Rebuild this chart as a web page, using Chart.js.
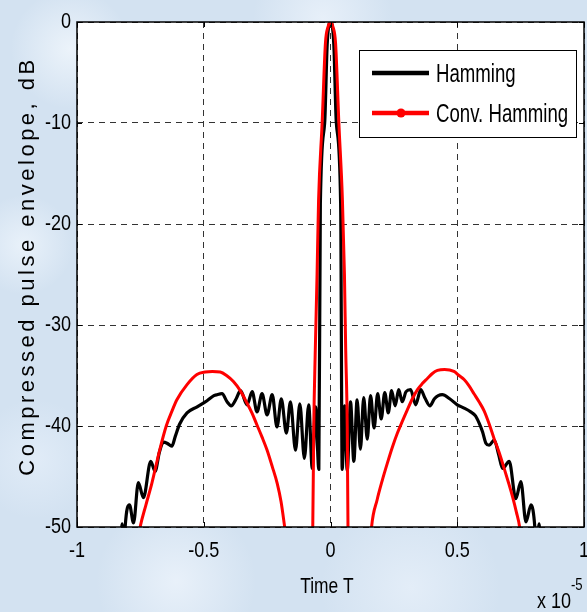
<!DOCTYPE html>
<html>
<head>
<meta charset="utf-8">
<script src="https://cdn.jsdelivr.net/npm/chart.js@4.4.1/dist/chart.umd.min.js"></script>
<style>
  html, body { margin: 0; padding: 0; width: 587px; height: 612px; overflow: hidden; }
  body {
    background-color: #d3e2f1;
    background-image:
      radial-gradient(circle at 12% 8%, rgba(240,246,252,0.85) 0, rgba(240,246,252,0) 60px),
      radial-gradient(circle at 55% 3%, rgba(236,243,251,0.8) 0, rgba(236,243,251,0) 70px),
      radial-gradient(circle at 88% 12%, rgba(232,240,250,0.8) 0, rgba(232,240,250,0) 55px),
      radial-gradient(circle at 4% 40%, rgba(238,245,252,0.8) 0, rgba(238,245,252,0) 50px),
      radial-gradient(circle at 6% 75%, rgba(228,238,249,0.8) 0, rgba(228,238,249,0) 60px),
      radial-gradient(circle at 30% 95%, rgba(236,243,251,0.85) 0, rgba(236,243,251,0) 80px),
      radial-gradient(circle at 70% 96%, rgba(230,239,249,0.85) 0, rgba(230,239,249,0) 90px),
      radial-gradient(circle at 97% 60%, rgba(232,241,250,0.8) 0, rgba(232,241,250,0) 40px);
  }
  canvas { display: block; }
</style>
</head>
<body>
<canvas id="chart" width="587" height="612"></canvas>
<script>
// Time axis (units of 1e-5 s) and envelope level in dB for the plain Hamming-weighted pulse
const hammingT = [
  -0.830, -0.822, -0.815, -0.810, -0.793, -0.777, -0.758, -0.738, -0.709, -0.692,
  -0.675, -0.659, -0.645, -0.626, -0.612, -0.595, -0.566, -0.526, -0.487, -0.460,
  -0.448, -0.428, -0.408, -0.392, -0.372, -0.355, -0.329, -0.309, -0.290, -0.270,
  -0.250, -0.230, -0.211, -0.194, -0.174, -0.158, -0.138, -0.121, -0.103, -0.086,
  -0.072, -0.059, -0.046, -0.040, -0.023, -0.013, 0.000, 0.013, 0.023, 0.040,
  0.046, 0.056, 0.066, 0.079, 0.092, 0.105, 0.118, 0.131, 0.145, 0.158,
  0.172, 0.186, 0.200, 0.214, 0.228, 0.241, 0.255, 0.269, 0.283, 0.298,
  0.316, 0.336, 0.356, 0.372, 0.392, 0.410, 0.425, 0.441, 0.470, 0.500,
  0.525, 0.553, 0.572, 0.586, 0.600, 0.613, 0.626, 0.646, 0.663, 0.679,
  0.705, 0.731, 0.751, 0.771, 0.791, 0.806, 0.812, 0.823, 0.830
];
const hammingDb = [
  -53.0, -49.7, -53.0, -50.0, -47.8, -49.6, -45.6, -47.1, -43.5, -44.5,
  -42.6, -41.6, -41.7, -42.0, -41.0, -39.8, -38.7, -38.1, -37.5, -37.0,
  -36.9, -36.8, -37.6, -38.0, -37.3, -36.5, -37.9, -36.6, -38.6, -36.8,
  -38.9, -36.9, -40.1, -37.3, -40.7, -37.6, -42.4, -37.8, -43.2, -37.9,
  -44.2, -38.1, -44.3, -18.0, -10.0, -2.2, 0.0, -2.2, -10.0, -18.0,
  -44.3, -38.0, -44.4, -37.6, -43.5, -37.4, -42.3, -37.2, -41.3, -37.0,
  -40.2, -36.8, -39.3, -36.7, -38.7, -36.5, -38.0, -36.4, -37.6, -36.6,
  -36.4, -37.9, -36.4, -37.2, -38.0, -37.3, -37.0, -36.9, -37.3, -37.9,
  -38.2, -38.6, -39.0, -39.7, -40.6, -41.7, -41.9, -41.4, -42.8, -44.2,
  -43.5, -47.2, -45.5, -49.5, -47.8, -50.0, -53.0, -49.7, -53.0
];

// Convolution-based Hamming weighting; null separates the parts that fall below the axis
const convT = [
  -0.758, -0.751, -0.728, -0.705, -0.675, -0.648, -0.625, -0.606, -0.566, -0.527,
  -0.494, -0.466, -0.435, -0.410, -0.383, -0.356, -0.330, -0.310, -0.290, -0.270,
  -0.250, -0.230, -0.210, -0.195, -0.178, -0.172, -0.120,
  -0.073, -0.070, -0.066, -0.060, -0.053, -0.047, -0.033, -0.020, -0.010, 0.000,
  0.010, 0.020, 0.033, 0.047, 0.055, 0.060, 0.066, 0.069, 0.071, 0.120,
  0.158, 0.162, 0.184, 0.204, 0.224, 0.244, 0.264, 0.284, 0.303, 0.323,
  0.343, 0.362, 0.382, 0.402, 0.422, 0.450, 0.487, 0.507, 0.527, 0.546,
  0.566, 0.586, 0.606, 0.626, 0.646, 0.665, 0.685, 0.702, 0.718, 0.733,
  0.746, 0.750
];
const convDb = [
  -51.0, -50.0, -47.8, -45.7, -42.5, -40.0, -38.5, -37.4, -35.9, -34.9,
  -34.65, -34.6, -34.65, -35.0, -35.6, -36.5, -37.7, -38.7, -39.9, -41.1,
  -42.4, -44.0, -45.7, -47.5, -50.5, -51.5, null,
  -51.0, -50.0, -40.0, -32.5, -25.0, -17.6, -10.0, -2.1, -0.5, 0.0,
  -0.5, -2.1, -10.0, -17.6, -25.0, -32.5, -40.0, -50.0, -51.0, null,
  -51.5, -50.0, -47.3, -45.4, -43.7, -42.1, -40.7, -39.5, -38.4, -37.3,
  -36.4, -35.8, -35.3, -34.8, -34.5, -34.4, -34.6, -35.0, -35.4, -36.0,
  -36.8, -37.6, -38.5, -39.8, -41.3, -42.6, -44.2, -45.6, -47.0, -48.5,
  -50.0, -51.0
];

const xTicks = [-1, -0.5, 0, 0.5, 1];
const xTickLabels = ['-1', '-0.5', '0', '0.5', '1'];
const yTicks = [0, -10, -20, -30, -40, -50];
const yTickLabels = ['0', '-10', '-20', '-30', '-40', '-50'];

const seriesNames = ['Hamming', 'Conv. Hamming'];
const xTitle = 'Time T';
const yTitle = 'Compressed pulse envelope, dB';

const FONT = "'Liberation Sans', Arial, sans-serif";
const SQUEEZE = 0.82; // narrow lettering, like Arial Narrow

const toPoints = (xs, ys) => xs.map((x, i) => ({ x: x, y: ys[i] }));

// fillText with a horizontal squeeze around the anchor point
function narrowText(ctx, text, x, y, squeeze) {
  ctx.save();
  ctx.translate(x, y);
  ctx.scale(squeeze, 1);
  ctx.fillText(text, 0, 0);
  ctx.restore();
}

// Tick labels of every scale are drawn in the narrow lettering
const narrowTicks = {
  id: 'narrowTicks',
  beforeDraw(chart) {
    Object.values(chart.scales).forEach(scale => {
      if (scale._narrowed) return;
      const orig = scale.drawLabels;
      scale.drawLabels = function (area) {
        const ctx = this.ctx;
        const fill = ctx.fillText;
        ctx.fillText = function (t, x, y) {
          this.save();
          this.translate(x, y);
          this.scale(SQUEEZE, 1);
          fill.call(this, t, 0, 0);
          this.restore();
        };
        try { orig.call(this, area); } finally { ctx.fillText = fill; }
      };
      scale._narrowed = true;
    });
  }
};

// Frame, inward tick marks, titles and legend box
const decorations = {
  id: 'decorations',
  beforeDraw(chart) {
    const { ctx, chartArea: a } = chart;
    ctx.save();
    ctx.fillStyle = '#ffffff';
    ctx.fillRect(a.left, a.top, a.right - a.left, a.bottom - a.top);
    ctx.restore();
  },
  afterDatasetsDraw(chart) {
    const { ctx, chartArea: a, scales } = chart;
    ctx.save();
    ctx.strokeStyle = '#000000';
    ctx.lineWidth = 1;
    ctx.setLineDash([]);
    ctx.beginPath();
    const tl = 5;
    xTicks.forEach(v => {
      const px = Math.round(scales.x.getPixelForValue(v)) + 0.5;
      ctx.moveTo(px, a.bottom); ctx.lineTo(px, a.bottom - tl);
      ctx.moveTo(px, a.top); ctx.lineTo(px, a.top + tl);
    });
    yTicks.forEach(v => {
      const py = Math.round(scales.y.getPixelForValue(v)) + 0.5;
      ctx.moveTo(a.left, py); ctx.lineTo(a.left + tl, py);
      ctx.moveTo(a.right, py); ctx.lineTo(a.right - tl, py);
    });
    ctx.stroke();
    ctx.lineWidth = 1.5;
    ctx.strokeRect(a.left, a.top, a.right - a.left, a.bottom - a.top);
    ctx.restore();
  },
  afterDraw(chart) {
    const { ctx } = chart;
    ctx.save();
    ctx.fillStyle = '#000000';

    // x-axis title and exponent
    ctx.font = "22px " + FONT;
    ctx.textAlign = 'center';
    ctx.textBaseline = 'alphabetic';
    narrowText(ctx, xTitle, 327, 593, 0.79);
    ctx.textAlign = 'left';
    narrowText(ctx, 'x 10', 537, 608, SQUEEZE);
    ctx.font = "16px " + FONT;
    narrowText(ctx, '-5', 571, 590, SQUEEZE);

    // y-axis title, rotated and spaced out
    ctx.save();
    ctx.translate(34, 266);
    ctx.rotate(-Math.PI / 2);
    ctx.font = "22px " + FONT;
    ctx.letterSpacing = '3.5px';
    ctx.textAlign = 'center';
    ctx.textBaseline = 'alphabetic';
    ctx.fillText(yTitle, 0, 0);
    ctx.restore();

    // legend
    const bx = 359.5, by = 50.5, bw = 217, bh = 87;
    ctx.fillStyle = '#ffffff';
    ctx.fillRect(bx, by, bw, bh);
    ctx.strokeStyle = '#000000';
    ctx.lineWidth = 1;
    ctx.strokeRect(bx, by, bw, bh);
    const colors = ['#000000', '#ff0000'];
    const rows = [73, 113];
    ctx.lineCap = 'butt';
    rows.forEach((ry, i) => {
      ctx.strokeStyle = colors[i];
      ctx.lineWidth = 4.5;
      ctx.beginPath();
      ctx.moveTo(372, ry); ctx.lineTo(429, ry);
      ctx.stroke();
      if (i === 1) {
        ctx.fillStyle = colors[i];
        ctx.beginPath();
        ctx.arc(401, ry, 4.5, 0, Math.PI * 2);
        ctx.fill();
      }
      ctx.fillStyle = '#000000';
      ctx.font = "25px " + FONT;
      ctx.textAlign = 'left';
      ctx.textBaseline = 'alphabetic';
      narrowText(ctx, seriesNames[i], 436, ry + 9, 0.745);
    });
    ctx.restore();
  }
};

new Chart(document.getElementById('chart'), {
  type: 'line',
  data: {
    datasets: [
      {
        label: seriesNames[1],
        data: toPoints(convT, convDb),
        borderColor: '#ff0000',
        borderWidth: 3,
        pointRadius: 0,
        cubicInterpolationMode: 'monotone',
        spanGaps: false,
        clip: 0,
        borderJoinStyle: 'round',
        borderCapStyle: 'round',
        order: 0
      },
      {
        label: seriesNames[0],
        data: toPoints(hammingT, hammingDb),
        borderColor: '#000000',
        borderWidth: 3.2,
        pointRadius: 0,
        cubicInterpolationMode: 'monotone',
        clip: 0,
        borderJoinStyle: 'round',
        borderCapStyle: 'round',
        order: 1
      }
    ]
  },
  options: {
    responsive: false,
    animation: false,
    devicePixelRatio: 1,
    layout: { padding: { top: 22, right: 3, left: 0, bottom: 0 } },
    plugins: {
      legend: { display: false },
      tooltip: { enabled: false },
      title: { display: false }
    },
    scales: {
      x: {
        type: 'linear',
        min: -1,
        max: 1,
        afterBuildTicks: s => { s.ticks = xTicks.map(v => ({ value: v })); },
        afterFit: s => { s.height = 85; s.paddingLeft = 0; s.paddingRight = 0; },
        ticks: {
          color: '#000000',
          font: { family: FONT, size: 22 },
          padding: 11,
          maxRotation: 0,
          autoSkip: false,
          callback: v => xTickLabels[xTicks.indexOf(v)]
        },
        grid: { color: '#333333', lineWidth: 1, drawTicks: false },
        border: { display: false, dash: [6, 5] }
      },
      y: {
        type: 'linear',
        min: -50,
        max: 0,
        afterBuildTicks: s => { s.ticks = yTicks.map(v => ({ value: v })); },
        afterFit: s => { s.width = 77; s.paddingTop = 0; s.paddingBottom = 0; },
        ticks: {
          color: '#000000',
          font: { family: FONT, size: 22 },
          padding: 6,
          autoSkip: false,
          callback: v => yTickLabels[yTicks.indexOf(v)]
        },
        grid: { color: '#333333', lineWidth: 1, drawTicks: false },
        border: { display: false, dash: [6, 5] }
      }
    }
  },
  plugins: [narrowTicks, decorations]
});
</script>
</body>
</html>
